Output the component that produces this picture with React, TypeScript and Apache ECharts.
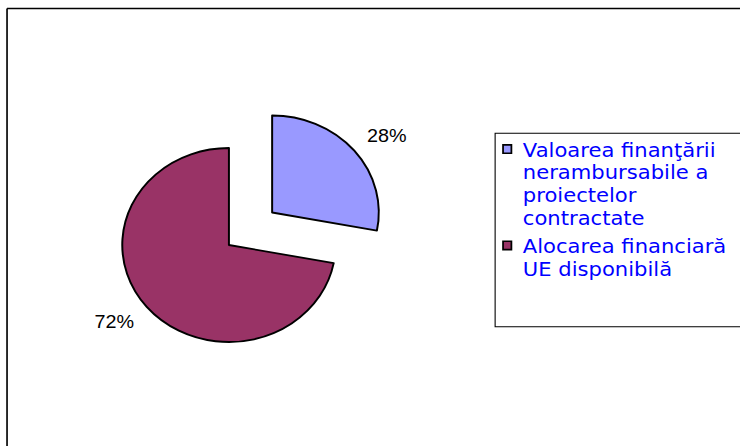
import React, { useEffect, useRef } from "react";
import * as echarts from "echarts";

// ---- data ----
const categories: string[] = [
  "Valoarea finanţării\nnerambursabile a\nproiectelor\ncontractate",
  "Alocarea financiară\nUE disponibilă",
];
const values: number[] = [28, 72];
const explodedIndex = 0;

// ---- styles ----
const colors: string[] = ["#9999FF", "#993366"];

const CHART_W = 673;
const CHART_H = 446;
const STRETCH = 740 / CHART_W;

export default function App() {
  const ref = useRef<HTMLDivElement>(null);

  useEffect(() => {
    const el = ref.current;
    if (!el) return;
    const chart = echarts.init(el, null, {
      renderer: "svg",
      width: CHART_W,
      height: CHART_H,
    });

    const legendFont = 19.2;
    const lineH = 22.7;
    const legendTop = 138.6;
    const itemGap = 5.6;
    const legendEls: any[] = [];
    let y = legendTop;
    categories.forEach((name, i) => {
      const lines = name.split("\n").length;
      legendEls.push({
        type: "rect",
        shape: { x: 457.5, y: y + 6.3, width: 7.6, height: 8.3 },
        style: { fill: colors[i], stroke: "#000", lineWidth: 1.6 },
      });
      legendEls.push({
        type: "text",
        x: 475.5,
        y: y,
        style: {
          text: name,
          fontSize: legendFont,
          fontFamily: "DejaVu Sans",
          fill: "#0000FF",
          lineHeight: lineH,
          align: "left",
          verticalAlign: "top",
        },
      });
      y += lines * lineH + itemGap;
    });

    chart.setOption({
      animation: false,
      backgroundColor: "#ffffff",
      graphic: [
        {
          type: "line",
          shape: { x1: 6.4, y1: 8.5, x2: CHART_W, y2: 8.5 },
          style: { stroke: "#000", lineWidth: 1.5 },
        },
        {
          type: "line",
          shape: { x1: 6.4, y1: 8.5, x2: 6.4, y2: CHART_H },
          style: { stroke: "#000", lineWidth: 1.5 },
        },
        {
          type: "rect",
          shape: { x: 450.3, y: 133.3, width: 260, height: 193.4 },
          style: { fill: "none", stroke: "#000", lineWidth: 1 },
        },
        ...legendEls,
      ],
      series: [
        {
          type: "pie",
          center: [208.2, 245],
          radius: 97,
          startAngle: 90,
          clockwise: true,
          selectedMode: "single",
          selectedOffset: 51,
          avoidLabelOverlap: false,
          data: values.map((v, i) => ({
            name: categories[i],
            value: v,
            selected: i === explodedIndex,
            itemStyle: { color: colors[i] },
          })),
          itemStyle: { borderColor: "#000", borderWidth: 1.8 },
          label: {
            show: true,
            position: "outside",
            formatter: "{d}%",
            color: "#000",
            fontFamily: "Liberation Sans",
            fontSize: 18,
            distanceToLabelLine: -7,
            alignTo: "none",
          },
          labelLine: { show: false, length: 24, length2: 0 },
          emphasis: { disabled: true },
          select: { itemStyle: { borderColor: "#000", borderWidth: 1.8 } },
        },
      ],
    });

    return () => {
      chart.dispose();
    };
  }, []);

  return (
    <div
      ref={ref}
      style={{
        position: "fixed",
        left: 0,
        top: 0,
        width: CHART_W,
        height: CHART_H,
        transform: `scaleX(${STRETCH})`,
        transformOrigin: "0 0",
        background: "#fff",
      }}
    />
  );
}
